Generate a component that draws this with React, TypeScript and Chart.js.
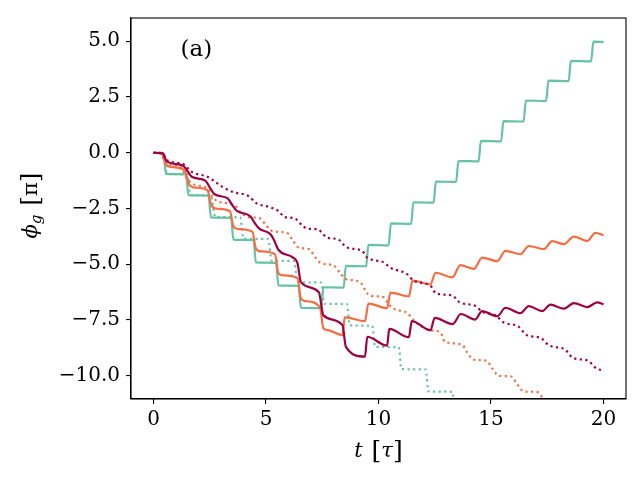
import React, { useEffect, useRef } from "react";
import { Chart, registerables } from "chart.js";

Chart.register(...registerables);

const GREEN = "#66c2a5";
const ORANGE = "#f46d43";
const RED = "#9e0142";
const SERIF = "'DejaVu Serif', serif";

const xTicks = [0, 5, 10, 15, 20];
const yTicks = [5, 2.5, 0, -2.5, -5, -7.5, -10];

// [t, phi_g] pairs
const greenSolid: [number, number][] = [
  [0, 0], [0.45, 0], [0.55, -0.95], [1.45, -0.97], [1.55, -1.9], [2.45, -1.92],
  [2.55, -2.9], [3.45, -2.92], [3.55, -3.9], [4.45, -3.92], [4.55, -4.92], [5.45, -4.94],
  [5.55, -5.95], [6.45, -5.97], [6.55, -6.95], [7.45, -6.97], [7.55, -6.03], [8.45, -6.05],
  [8.55, -5.07], [9.45, -5.09], [9.55, -4.13], [10.45, -4.15], [10.55, -3.17], [11.45, -3.19],
  [11.55, -2.22], [12.45, -2.24], [12.55, -1.29], [13.45, -1.31], [13.55, -0.37], [14.45, -0.39],
  [14.55, 0.53], [15.45, 0.51], [15.55, 1.42], [16.45, 1.4], [16.55, 2.34], [17.45, 2.32],
  [17.55, 3.23], [18.45, 3.21], [18.55, 4.12], [19.45, 4.1], [19.55, 4.98], [20, 4.96],
];

const greenDotted: [number, number][] = [
  [0, 0], [0.45, 0], [0.6, -0.95], [1.5, -0.97], [1.65, -1.9], [2.55, -1.92],
  [2.75, -2.88], [3.85, -2.9], [4.0, -3.85], [5.1, -3.87], [5.25, -4.84], [6.25, -4.86],
  [6.4, -5.8], [7.45, -5.82], [7.6, -6.77], [8.6, -6.79], [8.72, -7.74], [9.72, -7.76],
  [9.85, -8.7], [10.9, -8.72], [11.02, -9.7], [12.1, -9.72], [12.22, -10.7], [13.28, -10.72],
  [13.4, -11.7],
];

const orangeSolid: [number, number][] = [
  [0, 0], [0.35, -0.02], [0.55, -0.5], [0.7, -0.62], [1.4, -0.8],
  [1.55, -1.35], [1.75, -1.55], [2.4, -1.68],
  [2.55, -2.3], [2.75, -2.5], [3.4, -2.62],
  [3.55, -3.3], [3.75, -3.42], [4.4, -3.55],
  [4.55, -4.3], [4.75, -4.42], [5.4, -4.55],
  [5.55, -5.4], [5.75, -5.5], [6.4, -5.62],
  [6.55, -6.53], [6.75, -6.65], [7.4, -6.93],
  [7.55, -7.87], [7.75, -7.95], [8.4, -8.18],
  [8.5, -7.38], [9.4, -7.55], [9.55, -6.76], [10.38, -6.97], [10.53, -6.27], [11.35, -6.44],
  [11.51, -5.73], [12.31, -5.9], [12.53, -5.38], [13.28, -5.59], [13.64, -5.04], [14.24, -5.21],
  [14.61, -4.7], [15.28, -4.86], [15.64, -4.4], [16.31, -4.55], [16.68, -4.18], [17.35, -4.32],
  [17.72, -3.96], [18.24, -4.1], [18.68, -3.76], [19.28, -3.96], [19.64, -3.59], [20, -3.7],
];

const orangeDotted: [number, number][] = [
  [0, 0], [0.35, -0.05], [0.5, -0.45], [1.2, -0.62], [1.45, -1.1], [1.8, -1.42], [2.4, -1.6],
  [2.6, -1.95], [2.9, -2.2], [3.6, -2.35], [3.85, -2.65], [4.2, -2.88], [4.75, -2.95],
  [5.0, -3.25], [5.3, -3.52], [5.95, -3.6], [6.2, -3.95], [6.45, -4.25], [6.9, -4.32],
  [7.2, -4.7], [7.45, -4.95], [8.0, -5.05], [8.3, -5.4], [8.55, -5.66], [9.2, -5.81],
  [9.4, -6.15], [9.6, -6.4], [10.25, -6.48], [10.45, -6.8], [10.7, -7.0], [11.3, -7.2],
  [11.55, -7.5], [11.85, -7.75], [12.3, -7.96], [12.75, -8.05], [12.95, -8.47], [13.7, -8.6],
  [13.95, -8.96], [14.2, -9.27], [14.8, -9.32], [15.05, -9.66], [15.35, -10.0], [15.9, -10.03],
  [16.15, -10.36], [16.45, -10.7], [17.0, -10.72], [17.2, -10.85], [17.45, -11.4],
];

const redSolid: [number, number][] = [
  [0, 0], [0.4, -0.03], [0.6, -0.4], [1.3, -0.57], [1.5, -0.8], [1.7, -1.08], [2.3, -1.25],
  [2.5, -1.55], [2.7, -1.85], [3.3, -2.05], [3.5, -2.35], [3.7, -2.6], [4.3, -2.85],
  [4.5, -3.15], [4.7, -3.4], [5.2, -3.65], [5.35, -3.9], [5.55, -4.35], [6.2, -4.7],
  [6.4, -4.95], [6.55, -5.8], [7.35, -6.25], [7.55, -7.29], [8.4, -7.73], [8.55, -8.7],
  [9.4, -9.14], [9.5, -8.25], [10.38, -8.65], [10.48, -7.9], [11.35, -8.27], [11.48, -7.55],
  [12.31, -7.96], [12.5, -7.4], [13.3, -7.68], [13.66, -7.23], [14.3, -7.48], [14.6, -7.1],
  [15.28, -7.33], [15.64, -6.95], [16.31, -7.19], [16.68, -6.88], [17.28, -7.1], [17.64, -6.81],
  [18.24, -6.99], [18.68, -6.74], [19.28, -6.92], [19.72, -6.71], [20, -6.8],
];

const redDotted: [number, number][] = [
  [0, 0], [0.4, -0.03], [0.6, -0.34], [1.3, -0.5], [1.7, -0.86], [2.4, -1.08], [2.85, -1.38],
  [3.1, -1.55], [3.5, -1.75], [4.25, -1.96], [4.55, -2.25], [5.2, -2.45], [5.6, -2.65],
  [5.8, -2.88], [6.25, -2.93], [6.6, -3.25], [6.85, -3.41], [7.3, -3.43], [7.5, -3.6],
  [7.7, -3.8], [8.2, -3.88], [8.6, -4.25], [9.27, -4.4], [9.5, -4.7], [10.24, -4.92],
  [10.5, -5.14], [11.27, -5.44], [11.55, -5.73], [12.31, -5.96], [12.55, -6.3], [13.28, -6.4],
  [13.6, -6.7], [14.31, -6.87], [14.6, -7.12], [15.2, -7.29], [15.55, -7.6], [16.2, -7.78],
  [16.6, -8.18], [17.2, -8.3], [17.6, -8.65], [18.27, -8.81], [18.65, -9.2], [19.3, -9.32],
  [19.7, -9.68], [20, -9.75],
];

type Run = { text: string; font: string; dy?: number };

// draws a row of differently styled runs centred on x = 0 at baseline y = 0
function drawRuns(ctx: CanvasRenderingContext2D, runs: Run[]) {
  let total = 0;
  const widths = runs.map((r) => {
    ctx.font = r.font;
    const w = ctx.measureText(r.text).width;
    total += w;
    return w;
  });
  let x = -total / 2;
  runs.forEach((r, i) => {
    ctx.font = r.font;
    ctx.fillText(r.text, x, r.dy || 0);
    x += widths[i];
  });
}

const decorPlugin = {
  id: "decor",
  afterDraw(chart: any) {
    const { ctx, chartArea: a } = chart;
    ctx.save();
    ctx.strokeStyle = "#000";
    ctx.lineWidth = 1.1;
    ctx.strokeRect(a.left, a.top, a.right - a.left, a.bottom - a.top);

    ctx.fillStyle = "#000";
    ctx.textBaseline = "alphabetic";
    ctx.textAlign = "left";
    ctx.font = `23px ${SERIF}`;
    ctx.fillText("(a)", a.left + 0.1 * (a.right - a.left), a.top + 0.1 * (a.bottom - a.top));

    // x label: t [τ]
    ctx.save();
    ctx.translate((a.left + a.right) / 2, 457);
    drawRuns(ctx, [
      { text: "t", font: `italic 21px ${SERIF}` },
      { text: "  ", font: `14px ${SERIF}` },
      { text: "[", font: `25px ${SERIF}`, dy: 1 },
      { text: "τ", font: `italic 21px ${SERIF}` },
      { text: "]", font: `25px ${SERIF}`, dy: 1 },
    ]);
    ctx.restore();

    // y label: ϕ_g [π]
    ctx.save();
    ctx.translate(37, (a.top + a.bottom) / 2 - 3);
    ctx.rotate(-Math.PI / 2);
    drawRuns(ctx, [
      { text: "ϕ", font: `italic 21px ${SERIF}` },
      { text: "g", font: `italic 15px ${SERIF}`, dy: 4 },
      { text: "  ", font: `14px ${SERIF}` },
      { text: "[", font: `25px ${SERIF}`, dy: 1 },
      { text: "π", font: `21px ${SERIF}` },
      { text: "]", font: `25px ${SERIF}`, dy: 1 },
    ]);
    ctx.restore();
    ctx.restore();
  },
};

const line = (pts: [number, number][], color: string, dotted: boolean) => ({
  data: pts.map(([x, y]) => ({ x, y })),
  borderColor: color,
  backgroundColor: color,
  borderWidth: 2.2,
  borderDash: dotted ? [2.2, 3.4] : [],
  pointRadius: 0,
  cubicInterpolationMode: "monotone" as const,
  fill: false,
  clip: 0,
});

const App: React.FC = () => {
  const canvasRef = useRef<HTMLCanvasElement | null>(null);

  useEffect(() => {
    const ctx = canvasRef.current?.getContext("2d");
    if (!ctx) return;

    const chart = new Chart(ctx, {
      type: "line",
      data: {
        datasets: [
          line(redDotted, RED, true),
          line(redSolid, RED, false),
          line(orangeDotted, ORANGE, true),
          line(orangeSolid, ORANGE, false),
          line(greenDotted, GREEN, true),
          line(greenSolid, GREEN, false),
        ] as any,
      },
      options: {
        responsive: false,
        animation: false,
        devicePixelRatio: 1,
        layout: { padding: { top: 15, right: 14, left: 0, bottom: 0 } },
        plugins: { legend: { display: false }, tooltip: { enabled: false } },
        scales: {
          x: {
            type: "linear",
            min: -1,
            max: 21,
            afterBuildTicks: (s: any) => {
              s.ticks = xTicks.map((v) => ({ value: v }));
            },
            afterFit: (s: any) => {
              s.height = 81;
            },
            grid: { drawOnChartArea: false, drawTicks: true, tickLength: 5, color: "#000", lineWidth: 1.1 },
            border: { display: true, color: "#000", width: 1.1 },
            ticks: {
              autoSkip: false,
              maxRotation: 0,
              padding: 4,
              color: "#000",
              font: { family: SERIF, size: 20 },
              callback: (v: any) => String(v),
            },
          },
          y: {
            type: "linear",
            min: -11.04,
            max: 6.04,
            afterBuildTicks: (s: any) => {
              s.ticks = yTicks.map((v) => ({ value: v }));
            },
            afterFit: (s: any) => {
              s.width = 131;
            },
            grid: { drawOnChartArea: false, drawTicks: true, tickLength: 5, color: "#000", lineWidth: 1.1 },
            border: { display: true, color: "#000", width: 1.1 },
            ticks: {
              autoSkip: false,
              padding: 6,
              color: "#000",
              font: { family: SERIF, size: 20 },
              callback: (v: any) => Number(v).toFixed(1).replace("-", "\u2212"),
            },
          },
        },
      },
      plugins: [decorPlugin],
    });

    return () => {
      chart.destroy();
    };
  }, []);

  return (
    <div style={{ position: "absolute", left: 0, top: 0, width: 640, height: 480, background: "#fff" }}>
      <canvas ref={canvasRef} width={640} height={480} />
    </div>
  );
};

export default App;
